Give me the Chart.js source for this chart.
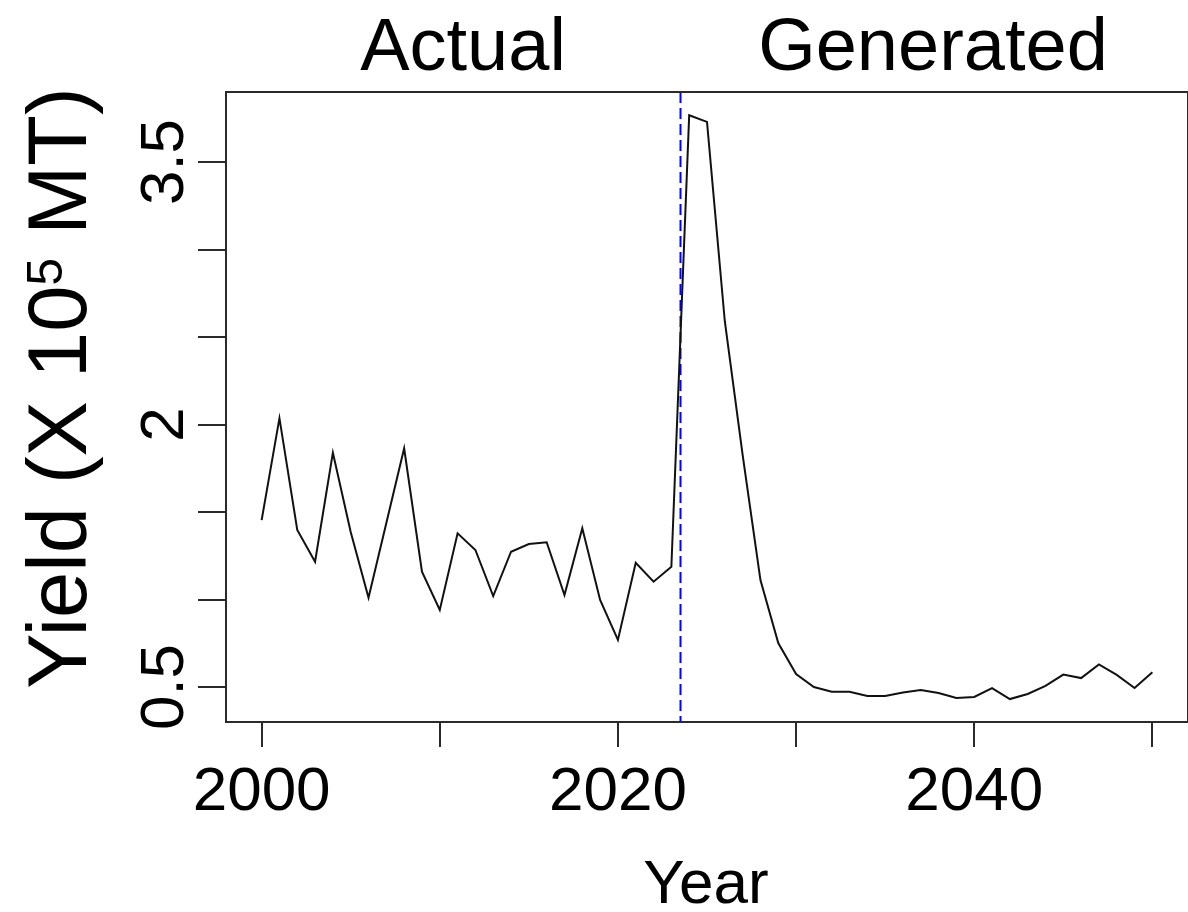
<!DOCTYPE html>
<html><head><meta charset="utf-8">
<script src="https://cdn.jsdelivr.net/npm/chart.js@4.4.1/dist/chart.umd.min.js"></script>
<style>html,body{margin:0;padding:0;background:#fff;}#wrap{width:1188px;height:912px;}</style>
</head><body><div id="wrap"><canvas id="c" width="1188" height="912"></canvas></div>
<script>
const years = [2000,2001,2002,2003,2004,2005,2006,2007,2008,2009,2010,2011,2012,2013,2014,2015,2016,2017,2018,2019,2020,2021,2022,2023,2024,2025,2026,2027,2028,2029,2030,2031,2032,2033,2034,2035,2036,2037,2038,2039,2040,2041,2042,2043,2044,2045,2046,2047,2048,2049,2050];
const yields = [1.454,2.036,1.397,1.216,1.839,1.386,1.010,1.437,1.864,1.159,0.940,1.378,1.283,1.020,1.273,1.317,1.327,1.026,1.407,0.997,0.769,1.210,1.102,1.187,3.767,3.729,2.590,1.826,1.111,0.751,0.574,0.500,0.473,0.473,0.449,0.449,0.469,0.483,0.466,0.437,0.443,0.494,0.431,0.460,0.506,0.571,0.551,0.629,0.569,0.494,0.584];
const splitYear = 2023.5;
const xTickValues = [2000,2010,2020,2030,2040,2050];
const xTickLabels = ['2000','','2020','','2040',''];
const yTickValues = [0.5,1,1.5,2,2.5,3,3.5];
const yTickLabels = ['0.5','','','2','','','3.5'];
const panelTitles = ['Actual','Generated'];
const xTitle = 'Year';
const yTitleParts = ['Yield (X 10','5',' MT)'];

const FONT = "'Liberation Sans', Arial, sans-serif";

const extras = {
  id: 'extras',
  beforeDatasetsDraw(chart) {
    const {ctx, chartArea: a, scales: {x}} = chart;
    const px = Math.round(x.getPixelForValue(splitYear)) + 0.5;
    ctx.save();
    ctx.strokeStyle = '#0000ff';
    ctx.lineWidth = 2;
    ctx.setLineDash([11, 5]);
    ctx.beginPath();
    ctx.moveTo(px, a.top);
    ctx.lineTo(px, a.bottom);
    ctx.stroke();
    ctx.restore();
  },
  afterDraw(chart) {
    const {ctx, chartArea: a, scales: {y}} = chart;
    ctx.save();
    ctx.strokeStyle = '#2a2a2a';
    ctx.lineWidth = 2;
    ctx.strokeRect(a.left, a.top, a.right - a.left, a.bottom - a.top);
    ctx.fillStyle = '#000';
    ctx.font = '62px ' + FONT;
    ctx.textAlign = 'center';
    ctx.textBaseline = 'alphabetic';
    yTickValues.forEach((v, i) => {
      if (!yTickLabels[i]) return;
      const py = y.getPixelForValue(v);
      ctx.save();
      ctx.translate(183, py);
      ctx.rotate(-Math.PI / 2);
      ctx.fillText(yTickLabels[i], 0, 0);
      ctx.restore();
    });
    ctx.font = '74px ' + FONT;
    ctx.fillText(panelTitles[0], 463, 70);
    ctx.fillText(panelTitles[1], 933, 70);
    ctx.font = '62px ' + FONT;
    ctx.fillText(xTitle, 706, 903);
    const big = '83px ' + FONT, small = '50px ' + FONT;
    ctx.font = big;
    const w1 = ctx.measureText(yTitleParts[0]).width;
    const w3 = ctx.measureText(yTitleParts[2]).width;
    ctx.font = small;
    const w2 = ctx.measureText(yTitleParts[1]).width;
    const total = w1 + w2 + w3;
    ctx.translate(86, 388);
    ctx.rotate(-Math.PI / 2);
    ctx.textAlign = 'left';
    let sx = -total / 2;
    ctx.font = big;
    ctx.fillText(yTitleParts[0], sx, 0);
    sx += w1;
    ctx.font = small;
    ctx.fillText(yTitleParts[1], sx, -24);
    sx += w2;
    ctx.font = big;
    ctx.fillText(yTitleParts[2], sx, 0);
    ctx.restore();
  }
};

new Chart(document.getElementById('c'), {
  type: 'line',
  data: {
    datasets: [{
      data: years.map((yr, i) => ({x: yr, y: yields[i]})),
      borderColor: '#111',
      borderWidth: 2,
      pointRadius: 0,
      tension: 0,
      fill: false
    }]
  },
  options: {
    responsive: false,
    animation: false,
    devicePixelRatio: 1,
    layout: {padding: {top: 92, right: 0, left: 0, bottom: 0}},
    plugins: {legend: {display: false}, tooltip: {enabled: false}, title: {display: false}},
    scales: {
      x: {
        type: 'linear',
        min: 1998,
        max: 2052,
        afterBuildTicks: s => { s.ticks = xTickValues.map(v => ({value: v})); },
        afterFit: s => { s.height = 190; },
        border: {display: false},
        grid: {display: true, drawOnChartArea: false, drawTicks: true, tickLength: 25, tickColor: '#2a2a2a', lineWidth: 2},
        ticks: {
          autoSkip: false,
          maxRotation: 0,
          minRotation: 0,
          padding: 9,
          color: '#000',
          font: {family: FONT, size: 62},
          callback: (v) => { const i = xTickValues.indexOf(v); return i >= 0 ? xTickLabels[i] : ''; }
        }
      },
      y: {
        type: 'linear',
        min: 0.3,
        max: 3.9,
        afterBuildTicks: s => { s.ticks = yTickValues.map(v => ({value: v})); },
        afterFit: s => { s.width = 226; },
        border: {display: false},
        grid: {display: true, drawOnChartArea: false, drawTicks: true, tickLength: 28, tickColor: '#2a2a2a', lineWidth: 2},
        ticks: {display: true, padding: 0, font: {size: 1}, callback: () => ''}
      }
    }
  },
  plugins: [extras]
});
</script>
</body></html>
